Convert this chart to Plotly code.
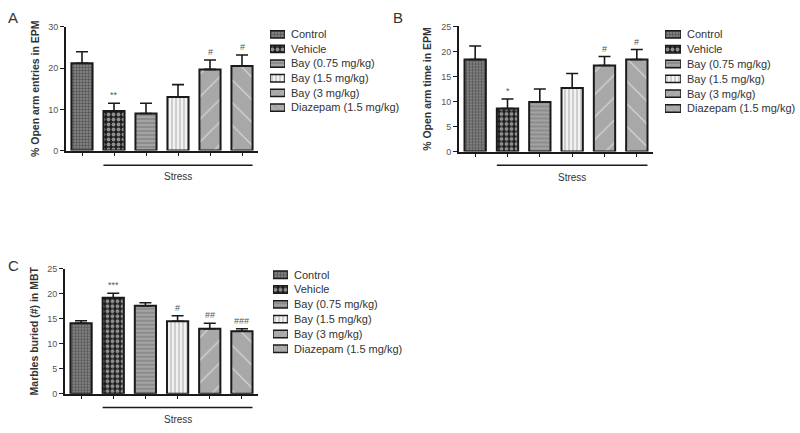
import plotly.graph_objects as go

groups = ["Control", "Vehicle", "Bay (0.75 mg/kg)", "Bay (1.5 mg/kg)",
          "Bay (3 mg/kg)", "Diazepam (1.5 mg/kg)"]

entries_mean = [21.2, 9.6, 9.0, 13.0, 19.7, 20.5]
entries_err = [2.8, 1.9, 2.5, 3.0, 2.3, 2.7]
time_mean = [18.4, 8.6, 9.9, 12.7, 17.2, 18.4]
time_err = [2.7, 1.9, 2.6, 2.9, 1.8, 2.0]
marbles_mean = [14.1, 19.2, 17.6, 14.5, 13.0, 12.5]
marbles_err = [0.5, 0.9, 0.6, 1.1, 1.1, 0.5]

sig_entries = ["", "**", "", "", "#", "#"]
sig_time = ["", "*", "", "", "#", "#"]
sig_marbles = ["", "***", "", "#", "##", "###"]

y_titles = ["% Open arm entries in EPM", "% Open arm time in EPM", "Marbles buried (#) in MBT"]
panel_letters = ["A", "B", "C"]
group_label = "Stress"

patterns = [
    dict(shape="+", fgcolor="#333333", bgcolor="#808080", size=3, solidity=0.45),
    dict(shape=".", fgcolor="#ffffff", bgcolor="#1e1e1e", size=5, solidity=0.45),
    dict(shape="-", fgcolor="#d8d8d8", bgcolor="#8c8c8c", size=4, solidity=0.3),
    dict(shape="|", fgcolor="#8a8a8a", bgcolor="#f2f2f2", size=4, solidity=0.35),
    dict(shape="/", fgcolor="#ffffff", bgcolor="#a8a8a8", size=16, solidity=0.08),
    dict(shape="\\", fgcolor="#ffffff", bgcolor="#a8a8a8", size=16, solidity=0.08),
]

FONT = "Liberation Sans"
W, H = 800, 433

def px_x(p):
    return p / W

def px_y(p):
    return 1 - p / H

panels = [
    dict(mean=entries_mean, err=entries_err, sig=sig_entries, xd=[66, 258], yd=[22.5, 149],
         yr=[0, 30], dt=10, line_y=164, stress_y=176, letter=(6, 13),
         sw_x=[270, 285], sw_y=[22.5, 112.5]),
    dict(mean=time_mean, err=time_err, sig=sig_time, xd=[459, 653], yd=[22, 150],
         yr=[0, 25], dt=5, line_y=164, stress_y=177, letter=(391, 13),
         sw_x=[665, 681], sw_y=[22.5, 113.5]),
    dict(mean=marbles_mean, err=marbles_err, sig=sig_marbles, xd=[65, 258], yd=[270, 398],
         yr=[0, 25], dt=5, line_y=412, stress_y=424, letter=(6, 267),
         sw_x=[273, 288], sw_y=[268.5, 359.5]),
]

fig = go.Figure()
layout = dict(
    width=W, height=H, margin=dict(l=0, r=0, t=0, b=0),
    paper_bgcolor="white", plot_bgcolor="white", showlegend=False,
    barmode="overlay", font=dict(family=FONT, color="#333333", size=10),
    shapes=[], annotations=[],
)

bar_w = 0.66
n = len(groups)
for pi, p in enumerate(panels):
    ax_main = 2 * pi + 1
    ax_key = 2 * pi + 2
    xa, ya = "x%d" % ax_main, "y%d" % ax_main
    kx, ky = "x%d" % ax_key, "y%d" % ax_key
    for gi, g in enumerate(groups):
        fig.add_trace(go.Bar(
            x=[gi], y=[p["mean"][gi]], name=g, width=bar_w,
            marker=dict(color=patterns[gi]["bgcolor"], pattern=patterns[gi],
                        line=dict(color="#1a1a1a", width=2)),
            error_y=dict(type="data", array=[p["err"][gi]], arrayminus=[0],
                         symmetric=False, color="#1a1a1a", thickness=1.6, width=6),
            xaxis=xa, yaxis=ya, hoverinfo="skip",
        ))
        # legend key swatch
        fig.add_trace(go.Bar(
            y=[g], x=[1], orientation="h", name=g, width=0.5,
            marker=dict(color=patterns[gi]["bgcolor"],
                        pattern=dict(patterns[gi], size=min(patterns[gi]["size"], 5)),
                        line=dict(color="#1a1a1a", width=1.5)),
            xaxis=kx, yaxis=ky, hoverinfo="skip",
        ))
    layout["xaxis%d" % ax_main] = dict(
        domain=[px_x(p["xd"][0]), px_x(p["xd"][1])], anchor=ya,
        range=[-0.5, 5.5], tickvals=list(range(n)), showticklabels=False,
        ticks="outside", ticklen=3, tickwidth=1.2, tickcolor="#1a1a1a",
        showline=True, linecolor="#1a1a1a", linewidth=2, showgrid=False, zeroline=False,
        fixedrange=True,
    )
    layout["yaxis%d" % ax_main] = dict(
        domain=[px_y(p["yd"][1]), px_y(p["yd"][0])], anchor=xa,
        range=p["yr"], dtick=p["dt"], tick0=0,
        ticks="outside", ticklen=4, tickwidth=1.2, tickcolor="#1a1a1a",
        tickfont=dict(size=9, color="#555555", family=FONT),
        showline=True, linecolor="#1a1a1a", linewidth=2, showgrid=False, zeroline=False,
        title=dict(text="<b>" + y_titles[pi] + "</b>", standoff=7,
                   font=dict(size=10.5, color="#333333", family=FONT)),
        fixedrange=True,
    )
    layout["xaxis%d" % ax_key] = dict(
        domain=[px_x(p["sw_x"][0]), px_x(p["sw_x"][1])], anchor=ky,
        range=[0, 1], visible=False, fixedrange=True,
    )
    layout["yaxis%d" % ax_key] = dict(
        domain=[px_y(p["sw_y"][1]), px_y(p["sw_y"][0])], anchor=kx,
        type="category", categoryorder="array", categoryarray=groups,
        range=[n - 0.5, -0.5], side="right", ticks="", showline=False,
        showgrid=False, zeroline=False, ticklabelstandoff=5,
        tickfont=dict(size=11, color="#333333", family=FONT), fixedrange=True,
    )
    # significance marks
    for gi in range(n):
        if p["sig"][gi]:
            layout["annotations"].append(dict(
                x=gi, y=p["mean"][gi] + p["err"][gi], xref=xa, yref=ya,
                text=p["sig"][gi], showarrow=False, yanchor="bottom", yshift=1,
                font=dict(size=9, color="#555555", family=FONT)))
    # stress bracket
    layout["shapes"].append(dict(
        type="line", xref=xa, yref="paper",
        x0=1 - bar_w / 2, x1=n - 1 + bar_w / 2,
        y0=px_y(p["line_y"]), y1=px_y(p["line_y"]),
        line=dict(color="#1a1a1a", width=1.5)))
    layout["annotations"].append(dict(
        x=(1 + n - 1) / 2, y=px_y(p["stress_y"]), xref=xa, yref="paper",
        text=group_label, showarrow=False, yanchor="middle",
        font=dict(size=10, color="#333333", family=FONT)))
    # panel letter
    layout["annotations"].append(dict(
        x=px_x(p["letter"][0]), y=px_y(p["letter"][1]), xref="paper", yref="paper",
        text=panel_letters[pi], showarrow=False, xanchor="left", yanchor="middle",
        font=dict(size=15, color="#333333", family=FONT)))

fig.update_layout(**layout)
fig.write_html("out.html", config={"displayModeBar": False},
               post_script="document.body.style.margin='0';document.body.style.overflow='hidden';")
